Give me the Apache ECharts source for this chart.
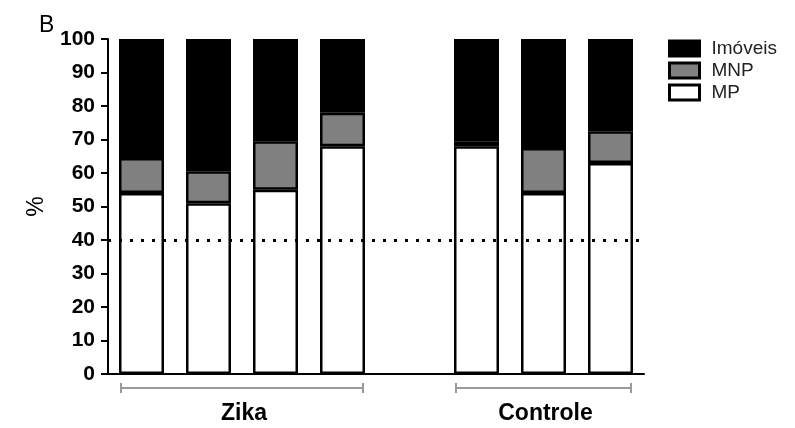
<!DOCTYPE html>
<html>
<head>
<meta charset="utf-8">
<script src="https://cdn.jsdelivr.net/npm/echarts@6/dist/echarts.min.js"></script>
<style>
  html, body { margin: 0; padding: 0; background: #fff; }
  #chart { width: 795px; height: 428px; }
</style>
</head>
<body>
<div id="chart"></div>
<script>
// Stacked percentage bars: four Zika samples, an empty spacer slot, three controls
const categories = ['Z1', 'Z2', 'Z3', 'Z4', '', 'C1', 'C2', 'C3'];
const mpValues = [54, 51, 55, 68, null, 68, 54, 63];
const mnpValues = [10.5, 9.5, 14.5, 10, null, 1.5, 13.5, 9.5];
const imoveisValues = [35.5, 39.5, 30.5, 22, null, 30.5, 32.5, 27.5];
const yTicks = [0, 10, 20, 30, 40, 50, 60, 70, 80, 90, 100];
const referenceLevel = 40;
const groups = [
  { name: 'Zika', from: 0, to: 3 },
  { name: 'Controle', from: 5, to: 7 }
];

const FONT = '"Liberation Sans", Arial, sans-serif';
const BAR_W = 45;

const chart = echarts.init(document.getElementById('chart'), null, { renderer: 'canvas' });

function barSeries(name, data, color) {
  return {
    name: name,
    type: 'bar',
    stack: 'total',
    data: data,
    barWidth: BAR_W,
    itemStyle: { color: color, borderColor: '#000', borderWidth: 2.5 },
    emphasis: { disabled: true }
  };
}

const series = [
  barSeries('MP', mpValues, '#ffffff'),
  barSeries('MNP', mnpValues, '#808080'),
  barSeries('Imóveis', imoveisValues, '#000000')
];
series[2].markLine = {
  silent: true,
  symbol: ['none', 'none'],
  label: { show: false },
  lineStyle: { color: '#000', type: [3, 8], width: 3 },
  data: [{ yAxis: referenceLevel }],
  z: 10
};

const titleGraphic = {
  type: 'text', left: 39, top: 14,
  style: { text: 'B', font: '23px ' + FONT, fill: '#000' }
};

chart.setOption({
  animation: false,
  backgroundColor: '#fff',
  grid: { left: 108, top: 39, width: 536, height: 335, containLabel: false },
  legend: {
    orient: 'vertical',
    left: 668,
    top: 39,
    padding: 0,
    itemWidth: 30,
    itemHeight: 15,
    itemGap: 3,
    icon: 'rect',
    selectedMode: false,
    data: ['Imóveis', 'MNP', 'MP'],
    textStyle: { fontFamily: FONT, fontSize: 19, color: '#222', padding: [0, 0, 0, 7] },
    itemStyle: { borderColor: '#000', borderWidth: 3 }
  },
  xAxis: {
    type: 'category',
    data: categories,
    axisLine: { lineStyle: { color: '#000', width: 2 } },
    axisTick: { show: false },
    axisLabel: { show: false },
    splitLine: { show: false }
  },
  yAxis: {
    type: 'value',
    min: yTicks[0],
    max: yTicks[yTicks.length - 1],
    interval: yTicks[1] - yTicks[0],
    name: '%',
    nameLocation: 'middle',
    nameGap: 60,
    nameRotate: 90,
    nameTextStyle: { fontFamily: FONT, fontSize: 23, color: '#000' },
    axisLine: { show: true, lineStyle: { color: '#000', width: 2 } },
    axisTick: { show: true, length: 7, lineStyle: { color: '#000', width: 2 } },
    axisLabel: { fontFamily: FONT, fontSize: 21, fontWeight: 'bold', color: '#000', margin: 13 },
    splitLine: { show: false }
  },
  series: series,
  graphic: [titleGraphic]
});

// Group brackets and labels beneath the category axis
function drawGroups() {
  const y0 = chart.convertToPixel({ yAxisIndex: 0 }, 0);
  const by = y0 + 14;
  const elems = [];
  groups.forEach(function (g) {
    const x1 = chart.convertToPixel({ xAxisIndex: 0 }, categories[g.from]) - BAR_W / 2 + 2;
    const x2 = chart.convertToPixel({ xAxisIndex: 0 }, categories[g.to]) + BAR_W / 2 - 2;
    const ls = { stroke: '#999', lineWidth: 2 };
    elems.push({ type: 'line', shape: { x1: x1, y1: by, x2: x2, y2: by }, style: ls, silent: true });
    elems.push({ type: 'line', shape: { x1: x1, y1: by - 5, x2: x1, y2: by + 5 }, style: ls, silent: true });
    elems.push({ type: 'line', shape: { x1: x2, y1: by - 5, x2: x2, y2: by + 5 }, style: ls, silent: true });
    elems.push({
      type: 'text',
      x: (x1 + x2) / 2 + 2,
      y: by + 26,
      style: {
        text: g.name, font: 'bold 23px ' + FONT, fill: '#000',
        textAlign: 'center', textVerticalAlign: 'middle'
      },
      silent: true
    });
  });
  chart.setOption({ graphic: [titleGraphic].concat(elems) });
}
drawGroups();
</script>
</body>
</html>
